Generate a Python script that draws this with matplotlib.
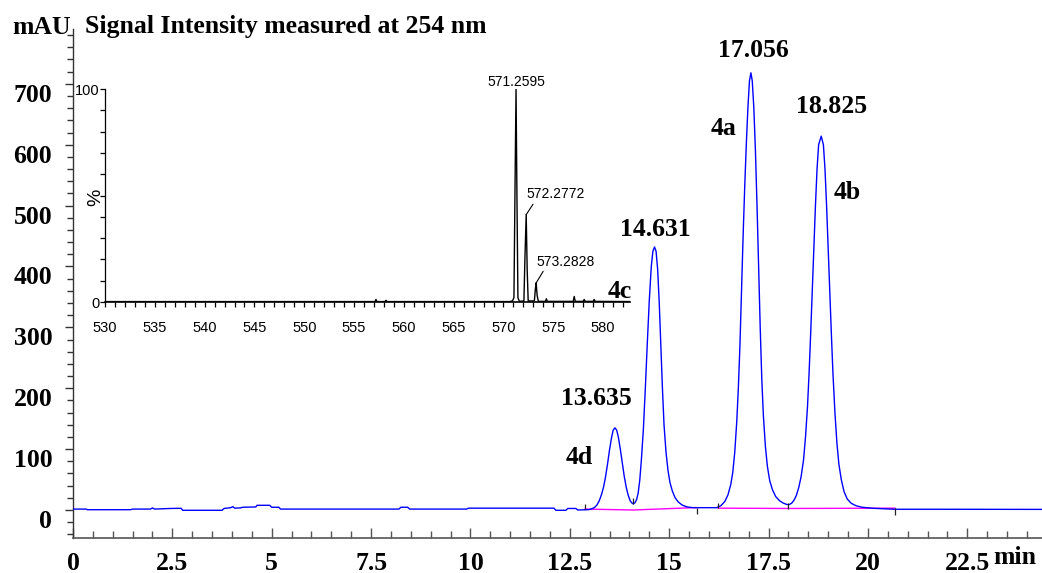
import matplotlib
matplotlib.use('Agg')
import matplotlib.pyplot as plt
from matplotlib.ticker import MultipleLocator, FixedLocator
from matplotlib.transforms import ScaledTranslation

# UV trace at 254 nm (min, mAU)
rt = [0.0, 0.33, 0.36, 1.45, 1.5, 1.95, 2.0, 2.05, 2.45, 2.72, 2.76, 3.75, 3.8, 3.97,
      4.02, 4.07, 4.22, 4.27, 4.6, 4.63, 4.95, 5.0, 5.18, 5.22, 8.2, 8.25, 8.42, 8.47,
      9.9, 9.95, 12.1, 12.15, 12.4, 12.45, 12.65, 12.7, 12.97,
      13.05, 13.12, 13.18, 13.24, 13.3, 13.35, 13.4, 13.45, 13.5, 13.55, 13.59, 13.635,
      13.68, 13.72, 13.77, 13.82, 13.87, 13.92, 13.97, 14.02, 14.07, 14.1, 14.14, 14.18,
      14.22, 14.26, 14.3, 14.35, 14.4, 14.45, 14.5, 14.55, 14.59, 14.631, 14.67, 14.71,
      14.75, 14.79, 14.83, 14.87, 14.92, 14.97, 15.02, 15.08, 15.15, 15.23, 15.33, 15.45,
      15.6, 16.19, 16.3, 16.4, 16.48, 16.55, 16.6, 16.65, 16.7, 16.74, 16.78, 16.82, 16.86,
      16.9, 16.94, 16.98, 17.02, 17.056, 17.09, 17.13, 17.17, 17.21, 17.25, 17.29, 17.33,
      17.37, 17.42, 17.47, 17.53, 17.6, 17.68, 17.78, 17.88, 17.96, 18.02, 18.08, 18.14,
      18.2, 18.26, 18.32, 18.38, 18.43, 18.48, 18.52, 18.56, 18.6, 18.64, 18.68, 18.72,
      18.76, 18.825, 18.88, 18.92, 18.96, 19.0, 19.04, 19.08, 19.12, 19.17, 19.22, 19.27,
      19.33, 19.4, 19.48, 19.58, 19.7, 19.85, 20.13, 20.68, 21.77, 24.4]
mau = [1.5, 1.5, 0.5, 0.5, 1.5, 1.5, 3.5, 1.5, 2.5, 2.8, -0.5, -0.5, 2.5, 3.8,
       5.5, 3.0, 3.5, 4.5, 5.0, 7.7, 7.7, 4.5, 4.5, 1.5, 1.5, 4.5, 4.5, 1.5,
       1.5, 3.0, 3.0, -0.5, -0.5, 2.5, 2.5, 0.0, 0.5,
       2, 4, 8, 15, 26, 38, 55, 76, 99, 119, 131, 135,
       131, 120, 100, 77, 55, 37, 24, 15, 11, 10, 12, 17,
       28, 49, 82, 132, 200, 275, 345, 400, 425, 432, 425, 395,
       340, 270, 200, 140, 95, 65, 45, 31, 20, 13, 8, 5,
       3.8, 3.8, 7, 14, 25, 42, 62, 95, 145, 200, 270, 360, 450,
       530, 600, 660, 705, 718, 705, 660, 590, 500, 400, 300, 215,
       155, 105, 72, 48, 33, 22, 15, 11, 9, 9, 11, 16,
       24, 37, 55, 82, 120, 170, 225, 290, 360, 430, 500, 560,
       600, 614, 600, 560, 500, 430, 360, 290, 225, 160, 110, 75,
       50, 30, 18, 11, 7, 4.5, 2.8, 1.2, 1.2, 1.0]

# integration baselines (magenta)
base1_t = [12.88, 14.1, 15.69]
base1_v = [1.5, 0.0, 4.0]
base2_t = [16.23, 17.99, 20.68]
base2_v = [3.0, 2.5, 3.0]

# peak start/end marks
mark_t = [12.88, 14.1, 15.69, 16.23, 17.99, 20.68]
mark_lo = [2, 10, -6, 4, 2, -8]
mark_hi = [10, 20, 4, 12, 12, 3]

peak_labels = ['13.635', '14.631', '17.056', '18.825']
peak_label_t = [13.18, 14.64, 17.11, 19.09]
peak_label_v = [183, 460, 754, 662]
cmpd_labels = ['4d', '4a', '4b', '4c']
cmpd_t = [12.73, 16.38, 19.47, 13.76]
cmpd_v = [86, 626, 522, 359]

x_ticks = [0, 2.5, 5, 7.5, 10, 12.5, 15, 17.5, 20, 22.5]
x_ticklabels = ['0', '2.5', '5', '7.5', '10', '12.5', '15', '17.5', '20', '22.5']
y_ticks = [0, 100, 200, 300, 400, 500, 600, 700]

# mass spectrum inset (m/z, %)
ms_mz = [530.0, 557.1, 557.2, 557.3, 558.1, 558.2, 558.3, 570.6, 570.9, 571.05, 571.15,
         571.26, 571.35, 571.45, 571.6, 572.05, 572.15, 572.28, 572.38, 572.48, 573.1,
         573.2, 573.28, 573.38, 573.5, 574.2, 574.3, 574.4, 577.0, 577.1, 577.2, 578.0,
         578.1, 578.2, 579.0, 579.1, 579.2, 582.7]
ms_pct = [0.2, 0.2, 1.2, 0.2, 0.2, 0.8, 0.2, 0.2, 0.5, 2, 50,
          100, 50, 2, 0.3, 0.5, 20, 41, 15, 0.5, 0.5,
          6, 9, 3, 0.3, 0.3, 1.5, 0.3, 0.3, 2.6, 0.3, 0.3,
          1.2, 0.3, 0.3, 1.2, 0.3, 0.2]
ms_labels = ['571.2595', '572.2772', '573.2828']
ms_label_mz = [571.26, 572.2772, 573.2828]
ms_label_top = [100, 41, 9]


def main():
    serif = 'Liberation Serif'
    sans = 'Liberation Sans'
    W, H = 1042, 573
    fig = plt.figure(figsize=(W / 100, H / 100), dpi=100)

    ax = fig.add_axes([73 / W, 35 / H, (W - 73) / W, (538 - 29) / H])
    ax.plot(rt, mau, color='#0000ff', lw=1.0, zorder=3)
    ax.plot(base1_t, base1_v, color='#ff00ff', lw=1.0, zorder=2)
    ax.plot(base2_t, base2_v, color='#ff00ff', lw=1.0, zorder=2)
    ax.vlines(mark_t, mark_lo, mark_hi, color='#222222', lw=0.9, zorder=4)

    ax.set_xlim(0, 24.38)
    ax.set_ylim(-46, 790)
    for s in ['top', 'right']:
        ax.spines[s].set_visible(False)
    ax.spines['bottom'].set_color('#555555')
    ax.spines['left'].set_color('#333333')
    ax.spines['bottom'].set_linewidth(1.2)
    ax.spines['left'].set_linewidth(1.0)

    ax.set_xticks(x_ticks)
    ax.set_xticklabels(x_ticklabels)
    ax.xaxis.set_minor_locator(MultipleLocator(0.5))
    ax.tick_params(axis='x', which='major', direction='in', length=7, width=1, color='#555555',
                   pad=10, labelsize=18.5)
    ax.tick_params(axis='x', which='minor', direction='in', length=5, width=1, color='#555555')

    ax.set_yticks(y_ticks)
    ax.yaxis.set_minor_locator(MultipleLocator(20))
    ax.tick_params(axis='y', which='major', direction='out', length=6, width=1, color='#333333',
                   pad=9, labelsize=18.5)
    ax.tick_params(axis='y', which='minor', direction='out', length=4.5, width=1, color='#333333')
    for lab in ax.get_xticklabels() + ax.get_yticklabels():
        lab.set_fontfamily(serif)
        lab.set_fontweight('bold')
    shift = ScaledTranslation(0, -9 / 100, fig.dpi_scale_trans)
    for lab in ax.get_yticklabels():
        lab.set_transform(lab.get_transform() + shift)

    for txt, t, v in zip(peak_labels, peak_label_t, peak_label_v):
        ax.text(t, v, txt, ha='center', va='center', fontsize=18.5, fontweight='bold',
                family=serif, zorder=5)
    for txt, t, v in zip(cmpd_labels, cmpd_t, cmpd_v):
        ax.text(t, v, txt, ha='center', va='center', fontsize=18.5, fontweight='bold',
                family=serif, zorder=5, clip_on=False)

    fig.text(71 / W, 1 - 27 / H, 'mAU', ha='right', va='center', fontsize=18.5,
             fontweight='bold', family=serif)
    fig.text(85 / W, 1 - 27 / H, 'Signal Intensity measured at 254 nm', ha='left',
             va='center', fontsize=18.5, fontweight='bold', family=serif)
    fig.text(1015 / W, 1 - 557 / H, 'min', ha='center', va='center', fontsize=18.5,
             fontweight='bold', family=serif)

    # mass spectrum inset
    ins = fig.add_axes([105 / W, (H - 302) / H, 525 / W, 213 / H])
    ins.set_facecolor('none')
    ins.plot(ms_mz, ms_pct, color='black', lw=1.0)
    ins.set_xlim(530, 582.7)
    ins.set_ylim(0, 100)
    for s in ['top', 'right']:
        ins.spines[s].set_visible(False)
    ins.spines['left'].set_linewidth(0.9)
    ins.spines['bottom'].set_linewidth(1.2)
    ins.xaxis.set_major_locator(MultipleLocator(5))
    ins.xaxis.set_minor_locator(MultipleLocator(1))
    ins.yaxis.set_major_locator(FixedLocator([0, 100]))
    ins.yaxis.set_minor_locator(MultipleLocator(10))
    ins.tick_params(axis='x', which='both', direction='out', length=3.5, width=0.9,
                    pad=10.5, labelsize=10.5)
    ins.tick_params(axis='y', which='both', direction='out', length=3.5, width=0.9,
                    pad=0.5, labelsize=10.5)
    for lab in ins.get_xticklabels() + ins.get_yticklabels():
        lab.set_fontfamily(sans)
    ins.set_ylabel('%', family=sans, fontsize=14)
    ins.yaxis.set_label_coords(-0.002, 0.49)

    ins.text(ms_label_mz[0], 103.5, ms_labels[0], ha='center', va='center', fontsize=10,
             family=sans, clip_on=False)
    ins.annotate(ms_labels[1], xy=(ms_label_mz[1], ms_label_top[1]), xytext=(575.2, 50.5),
                 ha='center', va='center', fontsize=10, family=sans,
                 arrowprops=dict(arrowstyle='-', lw=0.8, relpos=(0.15, 0),
                                 shrinkA=0, shrinkB=0))
    ins.annotate(ms_labels[2], xy=(ms_label_mz[2], ms_label_top[2]), xytext=(576.2, 19),
                 ha='center', va='center', fontsize=10, family=sans,
                 arrowprops=dict(arrowstyle='-', lw=0.8, relpos=(0.15, 0),
                                 shrinkA=0, shrinkB=0))

    fig.savefig('out.png', dpi=100)


if __name__ == '__main__':
    main()
